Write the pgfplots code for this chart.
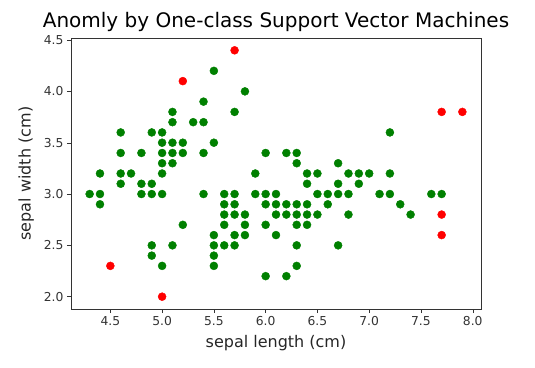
\documentclass[border=0pt]{standalone}
\usepackage{pgfplots}
\pgfplotsset{compat=1.18}
\usepackage{fontspec}
\setmainfont{DejaVu Sans}
\definecolor{mplgreen}{RGB}{0,128,0}
\definecolor{mplred}{RGB}{255,0,0}
\begin{document}
\begin{tikzpicture}
\useasboundingbox (-71pt,-58pt) rectangle (464pt,309pt);
\begin{axis}[
  at={(0,0)}, anchor=south west,
  width=410pt, height=271pt, scale only axis,
  xmin=4.12, xmax=8.08, ymin=1.88, ymax=4.52,
  xtick={4.5,5.0,...,8.0}, ytick={2.0,2.5,...,4.5},
  /pgf/number format/assume math mode=true,
  xticklabel style={/pgf/number format/.cd,fixed,fixed zerofill,precision=1},
  yticklabel style={/pgf/number format/.cd,fixed,fixed zerofill,precision=1},
  ticklabel style={font=\fontsize{12.3}{14}\selectfont, text=black!80},
  tick align=outside, tick pos=left,
  major tick length=4pt,
  axis line style={black!80},
  every tick/.style={black!80},
  title={Anomly by One-class Support Vector Machines},
  title style={font=\fontsize{20}{23}\selectfont, yshift=-3pt},
  xlabel={sepal length (cm)}, ylabel={sepal width (cm)},
  label style={font=\fontsize{16}{19}\selectfont, text=black!85},
  xlabel style={yshift=-3pt},
  ylabel style={yshift=3pt},
]
\addplot[only marks, mark=*, mark size=4pt, color=mplgreen] table {
x y
5.1 3.5
4.9 3.0
4.7 3.2
4.6 3.1
5.0 3.6
5.4 3.9
4.6 3.4
5.0 3.4
4.4 2.9
4.9 3.1
5.4 3.7
4.8 3.4
4.8 3.0
4.3 3.0
5.8 4.0
5.7 3.8
5.1 3.8
5.4 3.4
5.1 3.7
4.6 3.6
5.1 3.3
5.0 3.0
5.2 3.5
5.2 3.4
4.8 3.1
5.5 4.2
5.0 3.2
5.5 3.5
4.9 3.6
4.4 3.0
5.1 3.4
5.0 3.5
4.4 3.2
4.6 3.2
5.3 3.7
5.0 3.3
7.0 3.2
6.4 3.2
6.9 3.1
5.5 2.3
6.5 2.8
5.7 2.8
6.3 3.3
4.9 2.4
6.6 2.9
5.2 2.7
5.9 3.0
6.0 2.2
6.1 2.9
5.6 2.9
6.7 3.1
5.6 3.0
5.8 2.7
6.2 2.2
5.6 2.5
5.9 3.2
6.1 2.8
6.3 2.5
6.4 2.9
6.6 3.0
6.8 2.8
6.7 3.0
6.0 2.9
5.7 2.6
5.5 2.4
6.0 2.7
5.4 3.0
6.0 3.4
6.3 2.3
5.5 2.5
5.5 2.6
6.1 3.0
5.8 2.6
5.0 2.3
5.6 2.7
5.7 3.0
5.7 2.9
6.2 2.9
5.1 2.5
7.1 3.0
6.3 2.9
6.5 3.0
7.6 3.0
4.9 2.5
7.3 2.9
6.7 2.5
7.2 3.6
6.5 3.2
6.4 2.7
6.8 3.0
5.7 2.5
5.8 2.8
6.9 3.2
5.6 2.8
6.3 2.7
6.7 3.3
7.2 3.2
6.2 2.8
6.4 2.8
7.2 3.0
7.4 2.8
6.3 2.8
6.1 2.6
7.7 3.0
6.3 3.4
6.4 3.1
6.0 3.0
6.8 3.2
6.2 3.4
};
\addplot[only marks, mark=*, mark size=4pt, color=mplred] table {
x y
4.5 2.3
5.0 2.0
5.2 4.1
5.7 4.4
7.7 3.8
7.9 3.8
7.7 2.8
7.7 2.6
};
\end{axis}
\end{tikzpicture}
\end{document}
